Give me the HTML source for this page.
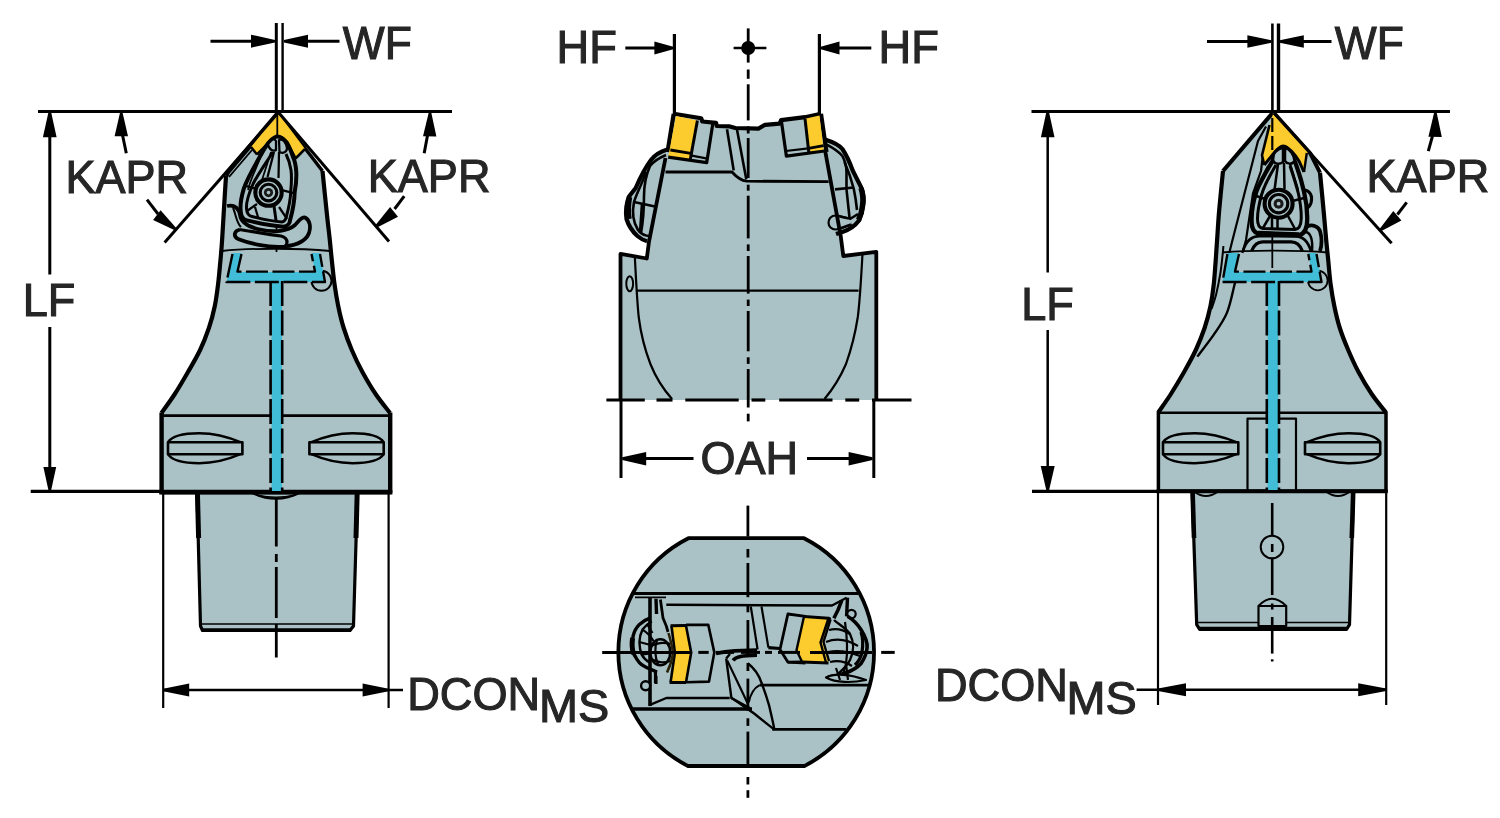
<!DOCTYPE html>
<html><head><meta charset="utf-8"><title>Tool dimensions</title>
<style>
html,body{margin:0;padding:0;background:#fff;}
body{width:1500px;height:818px;overflow:hidden;}
svg{display:block;font-family:"Liberation Sans",sans-serif;will-change:transform;transform:translateZ(0);}
</style></head><body>
<svg width="1500" height="818" viewBox="0 0 1500 818">
<rect width="1500" height="818" fill="#fff"/>
<path d="M278,113 L228,172 L226.0,176.0 C225.6,182.5 224.2,204.3 223.6,215.0 C222.9,225.7 222.6,232.2 222.1,240.0 C221.6,247.8 221.0,254.7 220.3,262.0 C219.6,269.3 219.0,276.7 218.1,284.0 C217.2,291.3 216.3,298.7 214.8,306.0 C213.3,313.3 211.4,320.7 208.9,328.0 C206.4,335.3 203.6,342.7 200.1,350.0 C196.6,357.3 192.2,364.7 188.0,372.0 C183.8,379.3 179.2,387.2 174.8,394.0 C170.4,400.8 163.7,409.8 161.5,413.0  L161.5,492 L197,492 L200.5,626 L202.5,630.5 L350,630.5 L353.5,626 L357.5,492 L390.2,492 L390.0,413.0 C387.6,409.8 380.2,400.8 375.6,394.0 C371.0,387.2 366.4,379.3 362.4,372.0 C358.4,364.7 354.9,357.3 351.8,350.0 C348.7,342.7 346.0,335.3 343.7,328.0 C341.4,320.7 339.7,313.3 338.2,306.0 C336.7,298.7 335.5,291.3 334.5,284.0 C333.5,276.7 332.8,269.3 332.0,262.0 C331.2,254.7 330.6,247.8 329.8,240.0 C329.0,232.2 328.2,226.5 327.0,215.0 C325.8,203.5 323.2,178.3 322.5,171.0  Z" fill="#aac2c6" stroke="#000" stroke-width="0" stroke-linejoin="round" stroke-linecap="butt" />
<path d="M197,492 L200.5,626 L202.5,630.5 L350,630.5 L353.5,626 L357.5,492" fill="none" stroke="#000" stroke-width="3.2" stroke-linejoin="round" stroke-linecap="butt" />
<line x1="197.4" y1="492" x2="198.6" y2="538" stroke="#000" stroke-width="5" />
<line x1="357.2" y1="492" x2="356" y2="538" stroke="#000" stroke-width="5" />
<line x1="200.5" y1="624" x2="353.5" y2="624" stroke="#000" stroke-width="1.6" />
<line x1="202" y1="630" x2="350" y2="630" stroke="#000" stroke-width="3.5" />
<path d="M161.6,412.5 L161.6,492 L390.2,492 L390.2,412.5" fill="none" stroke="#000" stroke-width="4.4" stroke-linejoin="round" stroke-linecap="butt" />
<line x1="161" y1="415.6" x2="390.5" y2="415.6" stroke="#000" stroke-width="2.6" />
<line x1="159.2" y1="492.4" x2="392.4" y2="492.4" stroke="#000" stroke-width="4.4" />
<path d="M226.0,176.0 C225.6,182.5 224.2,204.3 223.6,215.0 C222.9,225.7 222.6,232.2 222.1,240.0 C221.6,247.8 221.0,254.7 220.3,262.0 C219.6,269.3 219.0,276.7 218.1,284.0 C217.2,291.3 216.3,298.7 214.8,306.0 C213.3,313.3 211.4,320.7 208.9,328.0 C206.4,335.3 203.6,342.7 200.1,350.0 C196.6,357.3 192.2,364.7 188.0,372.0 C183.8,379.3 179.2,387.2 174.8,394.0 C170.4,400.8 163.7,409.8 161.5,413.0 " fill="none" stroke="#000" stroke-width="4.2" stroke-linejoin="round" stroke-linecap="butt" />
<path d="M322.5,171.0 C323.2,178.3 325.8,203.5 327.0,215.0 C328.2,226.5 329.0,232.2 329.8,240.0 C330.6,247.8 331.2,254.7 332.0,262.0 C332.8,269.3 333.5,276.7 334.5,284.0 C335.5,291.3 336.7,298.7 338.2,306.0 C339.7,313.3 341.4,320.7 343.7,328.0 C346.0,335.3 348.7,342.7 351.8,350.0 C354.9,357.3 358.4,364.7 362.4,372.0 C366.4,379.3 371.0,387.2 375.6,394.0 C380.2,400.8 387.6,409.8 390.0,413.0 " fill="none" stroke="#000" stroke-width="4.2" stroke-linejoin="round" stroke-linecap="butt" />
<path d="M278,113 L228,172 L226,176" fill="none" stroke="#000" stroke-width="4.5" stroke-linejoin="round" stroke-linecap="butt" />
<path d="M278,113 L322.5,171" fill="none" stroke="#000" stroke-width="3.5" stroke-linejoin="round" stroke-linecap="butt" />
<path d="M222,251 C250,248 300,248 330,251" fill="none" stroke="#000" stroke-width="1.8" stroke-linejoin="round" stroke-linecap="butt" />
<circle cx="321.5" cy="280.8" r="10" fill="none" stroke="#000" stroke-width="2"/>
<polygon points="232.5,253 241.5,253 237.5,272 315,272 311.5,253 320,253 325,282 282,282 282,491 271.5,491 271.5,282 226.5,282" fill="#41bdd8"/>
<path d="M241.5,254 L237.5,271.6 L315,271.6 L311.5,254" fill="none" stroke="#000" stroke-width="2.4" stroke-linejoin="round" stroke-linecap="butt" stroke-dasharray="22 4.5"/>
<path d="M232.5,254 L226.5,282 L325,282 L320,254" fill="none" stroke="#000" stroke-width="2.4" stroke-linejoin="round" stroke-linecap="butt" stroke-dasharray="24 4.5"/>
<line x1="270.6" y1="281" x2="270.6" y2="491" stroke="#000" stroke-width="2.6" stroke-dasharray="25 4.5"/>
<line x1="282.2" y1="281" x2="282.2" y2="491" stroke="#000" stroke-width="2.6" stroke-dasharray="25 4.5"/>
<path d="M168,442.2 C172,435.7 185.112,433.2 199.248,433.2 C214.872,433.2 231.24,438.2 240.4,442.2" fill="none" stroke="#000" stroke-width="2.4" stroke-linejoin="round" stroke-linecap="butt" />
<path d="M168,454.2 C172,460.7 185.112,463.2 199.248,463.2 C214.872,463.2 231.24,458.2 240.4,454.2" fill="none" stroke="#000" stroke-width="2.4" stroke-linejoin="round" stroke-linecap="butt" />
<path d="M168,442.2 L242.4,442.2 L242.4,454.2 L168,454.2 Z" fill="none" stroke="#000" stroke-width="2.6" stroke-linejoin="round" stroke-linecap="butt" />
<path d="M383.7,442.2 C379.7,435.7 366.611,433.2 352.49399999999997,433.2 C336.89099999999996,433.2 320.54499999999996,438.2 311.4,442.2" fill="none" stroke="#000" stroke-width="2.4" stroke-linejoin="round" stroke-linecap="butt" />
<path d="M383.7,454.2 C379.7,460.7 366.611,463.2 352.49399999999997,463.2 C336.89099999999996,463.2 320.54499999999996,458.2 311.4,454.2" fill="none" stroke="#000" stroke-width="2.4" stroke-linejoin="round" stroke-linecap="butt" />
<path d="M309.4,442.2 L383.7,442.2 L383.7,454.2 L309.4,454.2 Z" fill="none" stroke="#000" stroke-width="2.6" stroke-linejoin="round" stroke-linecap="butt" />
<path d="M251.4,492.5 Q276,505 300.4,492.5" fill="none" stroke="#000" stroke-width="2.2" stroke-linejoin="round" stroke-linecap="butt" />
<path d="M258,495.5 Q276,499 294,495.5" fill="none" stroke="#000" stroke-width="1.4" stroke-linejoin="round" stroke-linecap="butt" />
<line x1="276.5" y1="160" x2="276.5" y2="252" stroke="#000" stroke-width="1.8" />
<line x1="276.3" y1="497" x2="276.3" y2="546.5" stroke="#000" stroke-width="2.8" />
<line x1="276.3" y1="554" x2="276.3" y2="562" stroke="#000" stroke-width="2.8" />
<line x1="276.3" y1="567" x2="276.3" y2="618" stroke="#000" stroke-width="2.8" />
<line x1="276.3" y1="624" x2="276.3" y2="657.5" stroke="#000" stroke-width="2.8" />
<polygon points="278,113 251,147 257,154.5 276,137 280,137 295.5,158.5 305,149" fill="#fccb2e"/>
<path d="M278,113 L251,147 L257,154.5 L274,138" fill="none" stroke="#000" stroke-width="0" stroke-linejoin="round" stroke-linecap="butt" />
<line x1="277.3" y1="113" x2="277.3" y2="140" stroke="#000" stroke-width="1.8" />
<g transform="translate(0.0,0)">
<path d="M227,206 C235,204 239,209 240,215 C241,223 248,227 260,229.5 C275,233 288,231 295,225 C299,221 301,217 305,217.5 C310,220 311,227 309,233 C306,241 297,245 285,246.5 C268,248 248,243 238,239 C233,236 234,231 240,229.5" fill="#aac2c6" stroke="#000" stroke-width="3.75" stroke-linejoin="round" stroke-linecap="butt" />
<path d="M240,229.5 C255,232 270,235 281,236 C289,238 289,247 281,247.5" fill="none" stroke="#000" stroke-width="3.25" stroke-linejoin="round" stroke-linecap="butt" />
<path d="M233,208 C236,214 236,222 241,227" fill="none" stroke="#000" stroke-width="2.0" stroke-linejoin="round" stroke-linecap="butt" />
<path d="M276.4,136.5 C270,139 266,146 262,153 C255,165 247,179 243.8,188.6 C241,198 240,205 240.7,211 C241,217 244,220 247,220.4 C262,224 275,226 283.6,226.7 C288,226 290,223 290,220.4 C293,210 294.5,200 294.7,191.8 C296,185 296.5,178 296.3,172.7 C296,166 295,161 293,156.8 C291,151 289,146 286.8,142.5 C284,139 280,136 276.4,136.5 Z" fill="#aac2c6" stroke="#000" stroke-width="4.0" stroke-linejoin="round" stroke-linecap="butt" />
<path d="M273,152 C268,160 258,174 253,184 C249,193 246,203 246.5,209 C247,214 249,216 252,216.5 C264,219.5 275,221.5 282,222 C285,221.5 286,219 286.5,216 C289,207 290.5,198 290.8,191 C291.5,183 291.8,176 291,170 C290,163 288,158 286,154" fill="none" stroke="#000" stroke-width="3.0" stroke-linejoin="round" stroke-linecap="butt" />
<path d="M262,153 C258,165 250,180 248,190" fill="none" stroke="#000" stroke-width="1.75" stroke-linejoin="round" stroke-linecap="butt" />
<path d="M268,143 C270,139 274,138 276,141 L276,150 C273,152 268,149 268,143 Z" fill="#aac2c6" stroke="#000" stroke-width="2.25" stroke-linejoin="round" stroke-linecap="butt" />
<path d="M279,140 C283,138 286,143 287,148 C287,152 283,154 279.5,152 Z" fill="#aac2c6" stroke="#000" stroke-width="2.25" stroke-linejoin="round" stroke-linecap="butt" />
<line x1="274" y1="152" x2="267.5" y2="177" stroke="#000" stroke-width="2.25" />
<line x1="279" y1="152" x2="278.5" y2="178" stroke="#000" stroke-width="2.25" />
<line x1="271" y1="152" x2="262" y2="180" stroke="#000" stroke-width="1.75" />
<line x1="243.8" y1="185.4" x2="255.5" y2="188.6" stroke="#000" stroke-width="2.25" />
<line x1="282" y1="190.2" x2="294.7" y2="193.4" stroke="#000" stroke-width="2.25" />
<line x1="255" y1="207" x2="258.5" y2="218.8" stroke="#000" stroke-width="2.25" />
<line x1="274" y1="206" x2="276" y2="220.4" stroke="#000" stroke-width="3.0" />
<line x1="247" y1="211" x2="257" y2="204" stroke="#000" stroke-width="2.25" />
<line x1="287" y1="218.8" x2="279" y2="207" stroke="#000" stroke-width="2.25" />
<circle cx="268.5" cy="192.6" r="13.2" fill="#aac2c6" stroke="#000" stroke-width="4.08"/>
<circle cx="268.5" cy="192.6" r="8.3" fill="#aac2c6" stroke="#000" stroke-width="3.12"/>
<circle cx="268.5" cy="192.6" r="4.6" fill="#1a1a1a"/>
<circle cx="268.5" cy="192.6" r="1.8" fill="#aac2c6"/>
</g>
<path d="M257,154.5 L272,139.5 C275,136 279,135.5 282,138 C286,141 289,146 291,150 L295.5,158.5" fill="none" stroke="#000" stroke-width="2.75" stroke-linejoin="round" stroke-linecap="butt" />
<path d="M251,147 L257,154.5" fill="none" stroke="#000" stroke-width="2.5" stroke-linejoin="round" stroke-linecap="butt" />
<path d="M295.5,158.5 L305,149" fill="none" stroke="#000" stroke-width="2.5" stroke-linejoin="round" stroke-linecap="butt" />
<line x1="229" y1="177" x2="252" y2="150" stroke="#000" stroke-width="1.88" />
<line x1="276.3" y1="23" x2="276.3" y2="112" stroke="#000" stroke-width="3" />
<line x1="282.6" y1="23" x2="282.6" y2="112" stroke="#000" stroke-width="2.4" />
<line x1="210.5" y1="41.2" x2="262" y2="41.2" stroke="#000" stroke-width="3" />
<polygon points="275.0,42.5 251.0,47.7 251.0,34.7 275.0,39.9" fill="#000"/>
<line x1="296" y1="41.2" x2="339.5" y2="41.2" stroke="#000" stroke-width="3" />
<polygon points="284.0,39.9 308.0,34.7 308.0,47.7 284.0,42.5" fill="#000"/>
<text x="342.8" y="59.3" font-size="46.5" fill="#262626" stroke="#262626" stroke-width="1.1" text-anchor="start" textLength="69" lengthAdjust="spacingAndGlyphs">WF</text>
<line x1="38" y1="111.4" x2="452" y2="111.4" stroke="#000" stroke-width="3" />
<line x1="49.8" y1="125" x2="49.8" y2="274.5" stroke="#000" stroke-width="3" />
<line x1="49.8" y1="327" x2="49.8" y2="478" stroke="#000" stroke-width="3" />
<polygon points="51.1,112.0 56.6,137.3 42.9,137.3 48.5,112.0" fill="#000"/>
<polygon points="48.5,490.5 43.4,467.0 56.2,467.0 51.1,490.5" fill="#000"/>
<text x="22.8" y="316" font-size="46" fill="#262626" stroke="#262626" stroke-width="1.1" text-anchor="start" textLength="52.6" lengthAdjust="spacingAndGlyphs">LF</text>
<line x1="30.7" y1="491.3" x2="161" y2="491.3" stroke="#000" stroke-width="3.2" />
<line x1="278" y1="113" x2="164.6" y2="242.6" stroke="#000" stroke-width="3" />
<line x1="279" y1="113" x2="389" y2="241.5" stroke="#000" stroke-width="3" />
<text x="65.5" y="192.8" font-size="46" fill="#262626" stroke="#262626" stroke-width="1.1" text-anchor="start" textLength="122.6" lengthAdjust="spacingAndGlyphs">KAPR</text>
<polygon points="122.6,112.8 128.0,136.3 114.6,136.3 120.0,112.8" fill="#000"/>
<line x1="122.5" y1="135" x2="126.3" y2="153.3" stroke="#000" stroke-width="3" />
<polygon points="174.8,230.3 153.1,220.1 160.6,210.2 176.4,228.3" fill="#000"/>
<line x1="147" y1="199.7" x2="158" y2="214" stroke="#000" stroke-width="3" />
<text x="367.8" y="192" font-size="46" fill="#262626" stroke="#262626" stroke-width="1.1" text-anchor="start" textLength="122.6" lengthAdjust="spacingAndGlyphs">KAPR</text>
<polygon points="431.3,112.8 436.4,136.4 423.0,136.2 428.7,112.8" fill="#000"/>
<line x1="427.6" y1="135" x2="424.2" y2="153.3" stroke="#000" stroke-width="3" />
<polygon points="375.0,225.7 390.1,207.0 398.0,216.7 376.6,227.7" fill="#000"/>
<line x1="404.2" y1="196.2" x2="394.6" y2="209" stroke="#000" stroke-width="3" />
<line x1="163.2" y1="493" x2="163.2" y2="708" stroke="#000" stroke-width="2.2" />
<line x1="388.6" y1="493" x2="388.6" y2="708" stroke="#000" stroke-width="2.2" />
<line x1="163.2" y1="690" x2="403" y2="690" stroke="#000" stroke-width="2.4" />
<polygon points="163.2,688.7 189.2,683.5 189.2,696.5 163.2,691.3" fill="#000"/>
<polygon points="388.6,691.3 362.6,696.5 362.6,683.5 388.6,688.7" fill="#000"/>
<text x="407.2" y="709.7" font-size="46" fill="#262626" stroke="#262626" stroke-width="1.1" text-anchor="start" textLength="133" lengthAdjust="spacingAndGlyphs">DCON</text>
<text x="539" y="722" font-size="46" fill="#262626" stroke="#262626" stroke-width="1.1" text-anchor="start" textLength="70.2" lengthAdjust="spacingAndGlyphs">MS</text>
<path d="M673.7,113.8 L701.2,118.2 L702.3,121.5 L716,122.8 L716.8,126 L729.8,126.4 L735.3,128 L758.4,128.6 L765,124.8 L779.7,123.6 L781,120.2 L805,117.2 L821,113.8 L825,139.5 C833,142 839,145 842.4,149 C847,156 850,163 852.8,170.7 L861,187 C863.5,193 864,199 863.2,204 C862.5,210 861,216 859,220.6 C855,226 849,230 842.4,232 L840,234 L840.8,237 L843.3,256 L876.3,251.4 L876.3,400 L621,400 L621,253.8 L646.5,258.7 L649,241.6 L647,241.2 C644,240.5 641,239 637.4,236 C633,232 629,227 626.5,219 C625.5,212 626,204 629,196.5 L635.7,188 C640,178 645,168 651,160 C654,156 659,152 666.5,149.7 Z" fill="#aac2c6" stroke="#000" stroke-width="0" stroke-linejoin="round" stroke-linecap="butt" />
<path d="M666.5,149.7 C659,152 654,156 651,160 C645,168 640,178 635.7,188 L629,196.5 C626,204 625.5,212 626.5,219 C629,227 633,232 637.4,236 C641,239 644,240.5 647,241.2" fill="none" stroke="#000" stroke-width="4.2" stroke-linejoin="round" stroke-linecap="butt" />
<path d="M629.5,197 C628,205 628,213 629,219" fill="none" stroke="#000" stroke-width="5.5" stroke-linejoin="round" stroke-linecap="butt" />
<path d="M666,155 C659,158 653,162 650,166 C646,175 644,185 644,196 C644,210 643,222 641,233" fill="none" stroke="#000" stroke-width="2.6" stroke-linejoin="round" stroke-linecap="butt" />
<path d="M646,172 C643,182 637,192 634,202 C632,212 633,222 638,230 C641,234 646,236 650,236" fill="none" stroke="#000" stroke-width="2.6" stroke-linejoin="round" stroke-linecap="butt" />
<path d="M634,202 L655,206.5 M642,203.5 L640,233" fill="none" stroke="#000" stroke-width="2.6" stroke-linejoin="round" stroke-linecap="butt" />
<path d="M825,139.5 C833,142 839,145 842.4,149 C847,156 850,163 852.8,170.7 L861,187 C863.5,193 864,199 863.2,204 C862.5,210 861,216 859,220.6 C855,226 849,230 842.4,232 L836,234" fill="none" stroke="#000" stroke-width="4.2" stroke-linejoin="round" stroke-linecap="butt" />
<path d="M861,188 C863,194 863.5,200 862.5,206 C862,211 860.5,216 858.5,220" fill="none" stroke="#000" stroke-width="5.5" stroke-linejoin="round" stroke-linecap="butt" />
<path d="M826.8,144.7 C833,148 839,152 842.4,156 C845,161 846.5,166 846.5,172 L846.5,189" fill="none" stroke="#000" stroke-width="2.6" stroke-linejoin="round" stroke-linecap="butt" />
<path d="M844.5,162 C848,170 851.5,180 853.8,189 C855.5,197 856.5,205 857,210" fill="none" stroke="#000" stroke-width="2.6" stroke-linejoin="round" stroke-linecap="butt" />
<path d="M835,189.4 L853.8,187.5 M846.5,189.4 L849.6,218.5 M838,216 L850,219 L858,214 M840,228 L852,224" fill="none" stroke="#000" stroke-width="2.6" stroke-linejoin="round" stroke-linecap="butt" />
<circle cx="835.5" cy="222.5" r="7" fill="#aac2c6" stroke="#000" stroke-width="2.2"/>
<path d="M836,215.5 L849,219 L852,224 L838,229.2" fill="#aac2c6" stroke="#000" stroke-width="0" stroke-linejoin="round" stroke-linecap="butt" />
<path d="M836,215.5 C840,216 845,218 849.6,218.5 M838,229.2 L851,224.5" fill="none" stroke="#000" stroke-width="2.6" stroke-linejoin="round" stroke-linecap="butt" />
<path d="M665.5,158 L649,241.6 L646.8,258.5 L620.5,253.8 L620.5,400" fill="none" stroke="#000" stroke-width="3.8" stroke-linejoin="round" stroke-linecap="butt" />
<path d="M825,150 L840.8,236.7 L843.3,256 L876.3,251.8 L876.3,400" fill="none" stroke="#000" stroke-width="3.8" stroke-linejoin="round" stroke-linecap="butt" />
<path d="M673.7,113.8 L701.2,118.2 L702.3,121.5 L716,122.8 L716.8,126 L729.8,126.4 L735.3,128 L758.4,128.6 L765,124.8 L779.7,123.6 L781,120.2 L805,117.2 L821,113.8" fill="none" stroke="#000" stroke-width="4.2" stroke-linejoin="round" stroke-linecap="butt" />
<path d="M673.7,113.8 L667.5,152" fill="none" stroke="#000" stroke-width="4.2" stroke-linejoin="round" stroke-linecap="butt" />
<path d="M821,113.8 L826.5,152" fill="none" stroke="#000" stroke-width="4.2" stroke-linejoin="round" stroke-linecap="butt" />
<polygon points="676,116 697.4,120.4 690.2,160 668.2,157.2" fill="#fccb2e"/>
<path d="M697.4,120.4 L690.2,160" fill="none" stroke="#000" stroke-width="3" stroke-linejoin="round" stroke-linecap="butt" />
<path d="M670.4,150 L690.8,153.4" fill="none" stroke="#000" stroke-width="2.8" stroke-linejoin="round" stroke-linecap="butt" />
<path d="M712.8,123.7 L706.7,162.7 L668.2,157.2" fill="none" stroke="#000" stroke-width="3.2" stroke-linejoin="round" stroke-linecap="butt" />
<path d="M691.9,155.6 L706.2,158.3" fill="none" stroke="#000" stroke-width="2.2" stroke-linejoin="round" stroke-linecap="butt" />
<polygon points="805,118.7 819.5,115.6 823.7,151 809,154" fill="#fccb2e"/>
<path d="M805,118.7 L809,154" fill="none" stroke="#000" stroke-width="3" stroke-linejoin="round" stroke-linecap="butt" />
<path d="M808.4,148.3 L823.7,145.6" fill="none" stroke="#000" stroke-width="2.8" stroke-linejoin="round" stroke-linecap="butt" />
<path d="M781.5,121.8 L786.4,156.2 L824.5,151" fill="none" stroke="#000" stroke-width="3.2" stroke-linejoin="round" stroke-linecap="butt" />
<path d="M785.8,151 L808.4,148.3" fill="none" stroke="#000" stroke-width="2.2" stroke-linejoin="round" stroke-linecap="butt" />
<path d="M665.5,172 L732,172 C736,176.5 741,180.5 746.7,181.2 L828.6,181.6" fill="none" stroke="#000" stroke-width="2.8" stroke-linejoin="round" stroke-linecap="butt" />
<path d="M727,129.2 L733.7,170.4" fill="none" stroke="#000" stroke-width="2.6" stroke-linejoin="round" stroke-linecap="butt" />
<path d="M737,129.7 L746.3,179.2" fill="none" stroke="#000" stroke-width="2.6" stroke-linejoin="round" stroke-linecap="butt" />
<line x1="636.7" y1="290.7" x2="858.6" y2="290.7" stroke="#000" stroke-width="2.2" />
<path d="M634.8,256.3 C636,280 637,300 638.7,317 C641,335 645,350 650.4,364 C656,378 664,390 672,399" fill="none" stroke="#000" stroke-width="2.2" stroke-linejoin="round" stroke-linecap="butt" />
<path d="M862.5,254 C861,280 860,300 857.8,317 C855,335 851,350 846,364 C840,378 832,390 824.5,399" fill="none" stroke="#000" stroke-width="2.2" stroke-linejoin="round" stroke-linecap="butt" />
<ellipse cx="629.7" cy="283.7" rx="3.4" ry="7.5" fill="#aac2c6" stroke="#000" stroke-width="2"/>
<line x1="606.4" y1="400" x2="644.8" y2="400" stroke="#000" stroke-width="3.2" />
<line x1="656.5" y1="400" x2="672.5" y2="400" stroke="#000" stroke-width="3.2" />
<line x1="685.3" y1="400" x2="738.7" y2="400" stroke="#000" stroke-width="3.2" />
<line x1="751.5" y1="400" x2="765.3" y2="400" stroke="#000" stroke-width="3.2" />
<line x1="779.2" y1="400" x2="832.5" y2="400" stroke="#000" stroke-width="3.2" />
<line x1="845.3" y1="400" x2="859.2" y2="400" stroke="#000" stroke-width="3.2" />
<line x1="872" y1="400" x2="911.5" y2="400" stroke="#000" stroke-width="3.2" />
<line x1="748.2" y1="28.4" x2="748.2" y2="62.6" stroke="#000" stroke-width="2.8" />
<line x1="748.2" y1="69.5" x2="748.2" y2="78.8" stroke="#000" stroke-width="2.8" />
<line x1="748.2" y1="84.3" x2="748.2" y2="120.4" stroke="#000" stroke-width="2.8" />
<line x1="748.2" y1="126.4" x2="748.2" y2="133.5" stroke="#000" stroke-width="2.8" />
<line x1="748.2" y1="138" x2="748.2" y2="178" stroke="#000" stroke-width="2.8" />
<line x1="748.2" y1="184.7" x2="748.2" y2="190.7" stroke="#000" stroke-width="2.8" />
<line x1="748.2" y1="195.7" x2="748.2" y2="238.4" stroke="#000" stroke-width="2.8" />
<line x1="748.2" y1="244.4" x2="748.2" y2="251" stroke="#000" stroke-width="2.8" />
<line x1="748.2" y1="256" x2="748.2" y2="293.6" stroke="#000" stroke-width="2.8" />
<line x1="748.2" y1="299.6" x2="748.2" y2="306" stroke="#000" stroke-width="2.8" />
<line x1="748.2" y1="311" x2="748.2" y2="351.3" stroke="#000" stroke-width="2.8" />
<line x1="748.2" y1="357.3" x2="748.2" y2="363.9" stroke="#000" stroke-width="2.8" />
<line x1="748.2" y1="369" x2="748.2" y2="407.5" stroke="#000" stroke-width="2.8" />
<line x1="748.2" y1="413.7" x2="748.2" y2="421.4" stroke="#000" stroke-width="2.8" />
<circle cx="748.2" cy="48" r="7" fill="#000"/>
<line x1="733.6" y1="48" x2="766.4" y2="48" stroke="#000" stroke-width="2.6" />
<line x1="674.4" y1="34" x2="674.4" y2="115" stroke="#000" stroke-width="3.2" />
<line x1="819.4" y1="34" x2="819.4" y2="115" stroke="#000" stroke-width="3.2" />
<line x1="625.3" y1="48" x2="658" y2="48" stroke="#000" stroke-width="3" />
<polygon points="673.2,49.3 654.4,54.5 654.4,41.5 673.2,46.7" fill="#000"/>
<line x1="836" y1="48" x2="871.3" y2="48" stroke="#000" stroke-width="3" />
<polygon points="820.7,46.7 839.5,41.5 839.5,54.5 820.7,49.3" fill="#000"/>
<text x="556.5" y="63" font-size="46" fill="#262626" stroke="#262626" stroke-width="1.1" text-anchor="start" textLength="60.3" lengthAdjust="spacingAndGlyphs">HF</text>
<text x="878.5" y="63" font-size="46" fill="#262626" stroke="#262626" stroke-width="1.1" text-anchor="start" textLength="60.3" lengthAdjust="spacingAndGlyphs">HF</text>
<line x1="621" y1="401" x2="621" y2="478" stroke="#000" stroke-width="3" />
<line x1="873.8" y1="401" x2="873.8" y2="478" stroke="#000" stroke-width="3" />
<line x1="640" y1="458.6" x2="693.5" y2="458.6" stroke="#000" stroke-width="3" />
<polygon points="622.2,457.3 646.2,451.9 646.2,465.4 622.2,459.9" fill="#000"/>
<line x1="807" y1="458.6" x2="855" y2="458.6" stroke="#000" stroke-width="3" />
<polygon points="872.6,459.9 848.6,465.4 848.6,451.9 872.6,457.3" fill="#000"/>
<text x="700.5" y="474" font-size="46" fill="#262626" stroke="#262626" stroke-width="1.1" text-anchor="start" textLength="97.6" lengthAdjust="spacingAndGlyphs">OAH</text>
<path d="M688.4,538.2 L804.0,538.2 A127.8,127.8 0 0 1 804.4,766 L688.0,766 A127.8,127.8 0 0 1 688.4,538.2 Z" fill="#aac2c6" stroke="#000" stroke-width="3.8" stroke-linejoin="round" stroke-linecap="butt" />
<clipPath id="cc"><path d="M688.4,538.2 L804.0,538.2 A127.8,127.8 0 0 1 804.4,766 L688.0,766 A127.8,127.8 0 0 1 688.4,538.2 Z"/></clipPath><g clip-path="url(#cc)">
<line x1="633" y1="593.5" x2="858" y2="593.5" stroke="#000" stroke-width="3.2" />
<line x1="635" y1="597.3" x2="666" y2="597.3" stroke="#000" stroke-width="1.8" />
<path d="M666.3,604.8 L832,605.5 L846.6,597.7" fill="none" stroke="#000" stroke-width="2.4" stroke-linejoin="round" stroke-linecap="butt" />
<line x1="632" y1="709" x2="752" y2="709" stroke="#000" stroke-width="3.4" />
<path d="M650,704.8 L666.3,698 L729.7,698" fill="none" stroke="#000" stroke-width="2.4" stroke-linejoin="round" stroke-linecap="butt" />
<line x1="759.6" y1="685.1" x2="874" y2="685.1" stroke="#000" stroke-width="2.6" />
<line x1="772.3" y1="729.4" x2="846" y2="729.4" stroke="#000" stroke-width="2.6" />
<line x1="650" y1="597" x2="650" y2="706" stroke="#000" stroke-width="3.6" />
<path d="M656,598.7 L656.5,614" fill="none" stroke="#000" stroke-width="3.4" stroke-linejoin="round" stroke-linecap="butt" />
<path d="M660.4,599.5 L663,618 L666.3,626 L668,632" fill="none" stroke="#000" stroke-width="2.8" stroke-linejoin="round" stroke-linecap="butt" />
<path d="M656,676 L656,684" fill="none" stroke="#000" stroke-width="3" stroke-linejoin="round" stroke-linecap="butt" />
<path d="M841.7,600.6 L838,610 L833.9,618.2" fill="none" stroke="#000" stroke-width="3.6" stroke-linejoin="round" stroke-linecap="butt" />
<path d="M847.5,597.7 L846.6,616.3" fill="none" stroke="#000" stroke-width="3.4" stroke-linejoin="round" stroke-linecap="butt" />
<circle cx="851.5" cy="614" r="4.2" fill="#aac2c6" stroke="#000" stroke-width="2.2"/>
<path d="M750.8,606.5 L757.6,649.5 M761.5,606.5 L768.4,647.6" fill="none" stroke="#000" stroke-width="2.2" stroke-linejoin="round" stroke-linecap="butt" />
<path d="M768.4,647.6 L780,648.5" fill="none" stroke="#000" stroke-width="3.2" stroke-linejoin="round" stroke-linecap="butt" />
<path d="M716,653.6 C722,652 728,651.2 734.8,650.9 L757,650" fill="none" stroke="#000" stroke-width="3.6" stroke-linejoin="round" stroke-linecap="butt" />
<path d="M733,660.3 C736,656.5 742,655.6 757,655.2" fill="none" stroke="#000" stroke-width="3.6" stroke-linejoin="round" stroke-linecap="butt" />
<path d="M726.2,658.6 L731.4,698 L750.2,708.2" fill="none" stroke="#000" stroke-width="2.4" stroke-linejoin="round" stroke-linecap="butt" />
<path d="M726.2,658.6 L730,654" fill="none" stroke="#000" stroke-width="2.4" stroke-linejoin="round" stroke-linecap="butt" />
<path d="M727.3,660.6 L748,704" fill="none" stroke="#000" stroke-width="2.2" stroke-linejoin="round" stroke-linecap="butt" />
<path d="M747.8,663.2 C754,668 759,675 761.5,682.8 C765,692 767.5,700 769.3,706.2 C771,714 773,722 774.2,728.7" fill="none" stroke="#000" stroke-width="2.4" stroke-linejoin="round" stroke-linecap="butt" />
<path d="M759.6,685.1 C754,688 750.5,694 748.8,702.3" fill="none" stroke="#000" stroke-width="2" stroke-linejoin="round" stroke-linecap="butt" />
<path d="M731.4,698 C738,702 746,708 752,712 C760,718 768,725 774.2,729.4" fill="none" stroke="#000" stroke-width="2.4" stroke-linejoin="round" stroke-linecap="butt" />
<path d="M686,624.9 L708.3,624.9 L714.3,652.4 L709,681.6 L686,682.2" fill="#aac2c6" stroke="#000" stroke-width="2.6" stroke-linejoin="round" stroke-linecap="butt" />
<polygon points="671.5,626 686,625.7 691.2,652.6 686,682.2 670.6,682.2 674.9,652.6" fill="#fccb2e"/>
<path d="M671.5,626 L674.9,652.6 L670.6,682.2 M686,625.7 L691.2,652.6 L686,682.2" fill="none" stroke="#000" stroke-width="2.6" stroke-linejoin="round" stroke-linecap="butt" />
<path d="M670.5,625.8 L686,625.5 M669.6,682.4 L686,682.4" fill="none" stroke="#000" stroke-width="3" stroke-linejoin="round" stroke-linecap="butt" />
<path d="M805.5,616.3 L787.9,614 L780,649.5 L788,662.2 L805.5,663.2" fill="#aac2c6" stroke="#000" stroke-width="2.8" stroke-linejoin="round" stroke-linecap="butt" />
<polygon points="804,616.5 828.5,618.2 830.6,619.3 822.3,642 828.5,662.7 802,661.8 796.5,650.3" fill="#fccb2e"/>
<path d="M804,616.5 L796.5,650.3 L802,661.8 M828.5,618.2 L820.5,642.5 L826,662.5 M830.6,619.3 L823.5,642 L829,661" fill="none" stroke="#000" stroke-width="2.4" stroke-linejoin="round" stroke-linecap="butt" />
<path d="M804,616.5 L828.5,618.2 L830.6,619.3 M802,662 L828.5,662.9" fill="none" stroke="#000" stroke-width="3" stroke-linejoin="round" stroke-linecap="butt" />
<path d="M788,662.2 L802,662" fill="none" stroke="#000" stroke-width="2.8" stroke-linejoin="round" stroke-linecap="butt" />
<path d="M649.8,618.2 C645,620 642,622 639.4,624.4 C636,628 634,632 633.2,635.8 C632,640 631.8,644 632.2,648.2 C632.6,652 633.5,654.5 635.3,656.5 C636.5,659 638,661 639.4,662.7 C642,665.5 646,667.5 649.8,668.9 L657,672" fill="none" stroke="#000" stroke-width="3.4" stroke-linejoin="round" stroke-linecap="butt" />
<path d="M632.6,638 C631.8,643 632,649 633.6,654" fill="none" stroke="#000" stroke-width="5" stroke-linejoin="round" stroke-linecap="butt" />
<path d="M651.8,621.3 C648,623.5 645,626.5 642.5,629.6 C640.5,633.5 639.5,638 639.4,642 C639.5,646.5 640.2,650.5 641.5,654.4 C643.5,658 646.5,660.8 649.8,662.7" fill="none" stroke="#000" stroke-width="2.4" stroke-linejoin="round" stroke-linecap="butt" />
<ellipse cx="660.3" cy="652.3" rx="10" ry="13" fill="#aac2c6" stroke="#000" stroke-width="2.6"/>
<path d="M651,646 C656,643 664,642 670,644 M651,659 C656,662 664,663.5 670,661 M657,640 C654.5,648 655,657 658,664.5" fill="none" stroke="#000" stroke-width="2.2" stroke-linejoin="round" stroke-linecap="butt" />
<path d="M642.5,629.6 C647,632.5 651,636.5 653.5,641 M641.5,654.4 C645,654.5 648.5,654 651.5,653 M639.4,642 L650.5,645 M647,624 L652.5,633" fill="none" stroke="#000" stroke-width="2.2" stroke-linejoin="round" stroke-linecap="butt" />
<path d="M655.5,671 L655.5,683" fill="none" stroke="#000" stroke-width="3.2" stroke-linejoin="round" stroke-linecap="butt" />
<path d="M668.5,633 C670.5,640 672,646 673,652 M667,672.5 C670,666 672,660 673,654" fill="none" stroke="#2a2208" stroke-width="2.6" stroke-linejoin="round" stroke-linecap="butt" />
<circle cx="645.6" cy="685.8" r="4.5" fill="#aac2c6" stroke="#000" stroke-width="2.4"/>
<path d="M847.5,616.3 C854,620 858,625 861.2,630 C865,636 867.5,642 867.1,647.6 C866.5,654 864,659 861.2,663.2 C857,668 851,671 845.6,673 C840,675 834,676.5 828,677" fill="none" stroke="#000" stroke-width="3.6" stroke-linejoin="round" stroke-linecap="butt" />
<path d="M861,632 C863,638 863,646 862,652 C861,658 858,662 855,665" fill="none" stroke="#000" stroke-width="3.2" stroke-linejoin="round" stroke-linecap="butt" />
<path d="M834,620 C838,624 846,628 850,634 C854,642 854,652 850,660 C847,666 842,670 838,674" fill="none" stroke="#000" stroke-width="2.4" stroke-linejoin="round" stroke-linecap="butt" />
<path d="M829,630 C836,628 844,630 850,634 M826,642 C836,638 848,640 858,646 M828,652 C838,650 850,652 860,656 M830,662 C838,660 846,662 852,666" fill="none" stroke="#000" stroke-width="2.2" stroke-linejoin="round" stroke-linecap="butt" />
<path d="M845,622 C847,636 848,650 846,664 C845,668 844,672 842,676" fill="none" stroke="#000" stroke-width="2.2" stroke-linejoin="round" stroke-linecap="butt" />
<path d="M826,677.5 C834,673 850,674 866,680 C852,683 836,683 826,677.5 Z" fill="#aac2c6" stroke="#000" stroke-width="2.2" stroke-linejoin="round" stroke-linecap="butt" />
<path d="M836,668 L840,680 M846,664 L848,680" fill="none" stroke="#000" stroke-width="2.2" stroke-linejoin="round" stroke-linecap="butt" />
</g>
<line x1="747.9" y1="505.6" x2="747.9" y2="536.6" stroke="#000" stroke-width="2.8" />
<line x1="747.9" y1="549" x2="747.9" y2="557.5" stroke="#000" stroke-width="2.8" />
<line x1="747.9" y1="563" x2="747.9" y2="597.2" stroke="#000" stroke-width="2.8" />
<line x1="747.9" y1="604.8" x2="747.9" y2="612.3" stroke="#000" stroke-width="2.8" />
<line x1="747.9" y1="620" x2="747.9" y2="655.9" stroke="#000" stroke-width="2.8" />
<line x1="747.9" y1="663" x2="747.9" y2="671" stroke="#000" stroke-width="2.8" />
<line x1="747.9" y1="678.6" x2="747.9" y2="710.7" stroke="#000" stroke-width="2.8" />
<line x1="747.9" y1="718.3" x2="747.9" y2="725.9" stroke="#000" stroke-width="2.8" />
<line x1="747.9" y1="731.6" x2="747.9" y2="767.5" stroke="#000" stroke-width="2.8" />
<line x1="747.9" y1="777" x2="747.9" y2="784.5" stroke="#000" stroke-width="2.8" />
<line x1="747.9" y1="790.2" x2="747.9" y2="797.8" stroke="#000" stroke-width="2.8" />
<line x1="602.2" y1="652.4" x2="692" y2="652.4" stroke="#000" stroke-width="3" />
<line x1="698.3" y1="652.4" x2="708.7" y2="652.4" stroke="#000" stroke-width="3" />
<line x1="716" y1="652.4" x2="734" y2="652.4" stroke="#000" stroke-width="3" />
<line x1="741" y1="652.4" x2="760" y2="652.4" stroke="#000" stroke-width="3" />
<line x1="765" y1="652.4" x2="772" y2="652.4" stroke="#000" stroke-width="3" />
<line x1="778" y1="652.4" x2="800" y2="652.4" stroke="#000" stroke-width="3" />
<line x1="810" y1="652.4" x2="872" y2="652.4" stroke="#000" stroke-width="3" />
<line x1="881.2" y1="652.4" x2="894.7" y2="652.4" stroke="#000" stroke-width="3" />
<path d="M1272.5,113 L1223.0,171.0 C1222.4,177.5 1220.2,198.5 1219.2,210.0 C1218.2,221.5 1217.7,231.3 1217.1,240.0 C1216.5,248.7 1216.1,254.7 1215.6,262.0 C1215.0,269.3 1214.6,276.7 1213.8,284.0 C1213.0,291.3 1212.0,298.7 1210.5,306.0 C1209.0,313.3 1207.0,320.7 1204.6,328.0 C1202.1,335.3 1199.2,342.7 1195.8,350.0 C1192.4,357.3 1188.2,364.7 1184.1,372.0 C1179.9,379.3 1175.2,387.2 1170.9,394.0 C1166.6,400.8 1160.3,409.4 1158.2,412.5  L1158.2,491 L1192.2,491 L1196.7,624.6 L1199.7,629.5 L1346.5,629.5 L1349.5,624.6 L1353.5,491 L1386,491 L1386.0,412.5 C1383.6,409.4 1376.3,400.8 1371.7,394.0 C1367.1,387.2 1362.4,379.3 1358.5,372.0 C1354.6,364.7 1351.3,357.3 1348.2,350.0 C1345.1,342.7 1342.1,335.3 1339.8,328.0 C1337.5,320.7 1335.8,313.3 1334.3,306.0 C1332.8,298.7 1331.6,291.3 1330.6,284.0 C1329.6,276.7 1329.1,269.3 1328.4,262.0 C1327.7,254.7 1326.9,247.8 1326.2,240.0 C1325.5,232.2 1325.0,226.2 1324.0,215.0 C1323.0,203.8 1320.7,179.8 1320.0,172.7  L1310.4,153.6 Z" fill="#aac2c6" stroke="#000" stroke-width="0" stroke-linejoin="round" stroke-linecap="butt" />
<path d="M1192.2,491 L1196.7,624.6 L1199.7,629.5 L1346.5,629.5 L1349.5,624.6 L1353.5,491" fill="none" stroke="#000" stroke-width="3.2" stroke-linejoin="round" stroke-linecap="butt" />
<line x1="1192.6" y1="492" x2="1194" y2="538" stroke="#000" stroke-width="4.6" />
<line x1="1353.2" y1="492" x2="1351.8" y2="538" stroke="#000" stroke-width="4.6" />
<line x1="1196.7" y1="622.5" x2="1349.5" y2="622.5" stroke="#000" stroke-width="1.6" />
<line x1="1199" y1="628.6" x2="1347" y2="628.6" stroke="#000" stroke-width="3.8" />
<path d="M1158.4,411.5 L1158.4,491 L1386,491 L1386,411.5" fill="none" stroke="#000" stroke-width="3.5" stroke-linejoin="round" stroke-linecap="butt" />
<line x1="1158" y1="412.8" x2="1386.5" y2="412.8" stroke="#000" stroke-width="2.4" />
<line x1="1156.6" y1="491.4" x2="1387.8" y2="491.4" stroke="#000" stroke-width="3.6" />
<path d="M1247.5,491 L1247.5,418.7 L1296,418.7 L1296,491" fill="none" stroke="#000" stroke-width="2.2" stroke-linejoin="round" stroke-linecap="butt" />
<path d="M1223.0,171.0 C1222.4,177.5 1220.2,198.5 1219.2,210.0 C1218.2,221.5 1217.7,231.3 1217.1,240.0 C1216.5,248.7 1216.1,254.7 1215.6,262.0 C1215.0,269.3 1214.6,276.7 1213.8,284.0 C1213.0,291.3 1212.0,298.7 1210.5,306.0 C1209.0,313.3 1207.0,320.7 1204.6,328.0 C1202.1,335.3 1199.2,342.7 1195.8,350.0 C1192.4,357.3 1188.2,364.7 1184.1,372.0 C1179.9,379.3 1175.2,387.2 1170.9,394.0 C1166.6,400.8 1160.3,409.4 1158.2,412.5 " fill="none" stroke="#000" stroke-width="4.2" stroke-linejoin="round" stroke-linecap="butt" />
<path d="M1320.0,172.7 C1320.7,179.8 1323.0,203.8 1324.0,215.0 C1325.0,226.2 1325.5,232.2 1326.2,240.0 C1326.9,247.8 1327.7,254.7 1328.4,262.0 C1329.1,269.3 1329.6,276.7 1330.6,284.0 C1331.6,291.3 1332.8,298.7 1334.3,306.0 C1335.8,313.3 1337.5,320.7 1339.8,328.0 C1342.1,335.3 1345.1,342.7 1348.2,350.0 C1351.3,357.3 1354.6,364.7 1358.5,372.0 C1362.4,379.3 1367.1,387.2 1371.7,394.0 C1376.3,400.8 1383.6,409.4 1386.0,412.5 " fill="none" stroke="#000" stroke-width="4.2" stroke-linejoin="round" stroke-linecap="butt" />
<path d="M1272.5,113 L1223,171" fill="none" stroke="#000" stroke-width="4.2" stroke-linejoin="round" stroke-linecap="butt" />
<path d="M1274,113 L1310.4,153.6 L1320,172.7" fill="none" stroke="#000" stroke-width="4" stroke-linejoin="round" stroke-linecap="butt" />
<path d="M1266,126.5 L1258,141 L1232.5,240 L1229.2,253.2" fill="none" stroke="#000" stroke-width="2.2" stroke-linejoin="round" stroke-linecap="butt" />
<path d="M1262.7,157 L1261,171 L1253,193.4 L1246,240 L1242.4,253" fill="none" stroke="#000" stroke-width="2.2" stroke-linejoin="round" stroke-linecap="butt" />
<path d="M1236.0,280.0 C1235.8,280.7 1236.2,278.6 1234.7,284.0 C1233.2,289.4 1230.5,304.2 1227.0,312.6 C1223.5,321.0 1218.8,327.3 1213.8,334.6 C1208.8,341.9 1200.0,352.9 1197.3,356.6 " fill="none" stroke="#000" stroke-width="2.4" stroke-linejoin="round" stroke-linecap="butt" />
<path d="M1223.4,246.0 C1223.3,247.5 1223.1,250.5 1222.6,255.0 C1222.1,259.5 1221.5,266.3 1220.4,273.0 C1219.3,279.7 1217.5,289.0 1216.0,295.0 C1214.5,301.0 1212.2,306.7 1211.5,309.0 " fill="none" stroke="#000" stroke-width="2" stroke-linejoin="round" stroke-linecap="butt" />
<path d="M1222,252.5 C1250,250 1300,250 1328,252.5" fill="none" stroke="#000" stroke-width="1.8" stroke-linejoin="round" stroke-linecap="butt" />
<circle cx="1317.8" cy="280.5" r="9.8" fill="#aac2c6" stroke="#000" stroke-width="1.8"/>
<polygon points="1227.4,253 1239,253 1235,272 1311.5,272 1308.3,253 1316.5,253 1321.5,282 1278.4,282 1278.4,490 1267.6,490 1267.6,282 1222.5,282" fill="#41bdd8"/>
<path d="M1239,254 L1235,271.6 L1311.5,271.6 L1308.3,254" fill="none" stroke="#000" stroke-width="2.4" stroke-linejoin="round" stroke-linecap="butt" stroke-dasharray="22 4.5"/>
<path d="M1227.4,254 L1222.5,282 L1321.5,282 L1316.5,254" fill="none" stroke="#000" stroke-width="2.4" stroke-linejoin="round" stroke-linecap="butt" stroke-dasharray="24 4.5"/>
<line x1="1266.8" y1="281" x2="1266.8" y2="490" stroke="#000" stroke-width="2.6" stroke-dasharray="25 4.5"/>
<line x1="1279" y1="281" x2="1279" y2="490" stroke="#000" stroke-width="2.6" stroke-dasharray="25 4.5"/>
<path d="M1163,442.2 C1167,435.7 1180.319,433.2 1194.626,433.2 C1210.439,433.2 1227.0049999999999,438.2 1236.3,442.2" fill="none" stroke="#000" stroke-width="2.4" stroke-linejoin="round" stroke-linecap="butt" />
<path d="M1163,454.2 C1167,460.7 1180.319,463.2 1194.626,463.2 C1210.439,463.2 1227.0049999999999,458.2 1236.3,454.2" fill="none" stroke="#000" stroke-width="2.4" stroke-linejoin="round" stroke-linecap="butt" />
<path d="M1163,442.2 L1238.3,442.2 L1238.3,454.2 L1163,454.2 Z" fill="none" stroke="#000" stroke-width="2.6" stroke-linejoin="round" stroke-linecap="butt" />
<path d="M1380.2,442.2 C1376.2,435.7 1362.904,433.2 1348.616,433.2 C1332.824,433.2 1316.28,438.2 1307,442.2" fill="none" stroke="#000" stroke-width="2.4" stroke-linejoin="round" stroke-linecap="butt" />
<path d="M1380.2,454.2 C1376.2,460.7 1362.904,463.2 1348.616,463.2 C1332.824,463.2 1316.28,458.2 1307,454.2" fill="none" stroke="#000" stroke-width="2.4" stroke-linejoin="round" stroke-linecap="butt" />
<path d="M1305,442.2 L1380.2,442.2 L1380.2,454.2 L1305,454.2 Z" fill="none" stroke="#000" stroke-width="2.6" stroke-linejoin="round" stroke-linecap="butt" />
<path d="M1194.5,492 Q1206,500 1217.5,492" fill="none" stroke="#000" stroke-width="1.8" stroke-linejoin="round" stroke-linecap="butt" />
<path d="M1326.5,492 Q1338,500 1349.5,492" fill="none" stroke="#000" stroke-width="1.8" stroke-linejoin="round" stroke-linecap="butt" />
<circle cx="1272" cy="547" r="11.3" fill="none" stroke="#000" stroke-width="2"/>
<path d="M1258.5,626 L1258.5,606 Q1272,591.5 1286.2,606 L1286.2,626 Z" fill="#aac2c6" stroke="#000" stroke-width="2.2" stroke-linejoin="round" stroke-linecap="butt" />
<path d="M1258.5,606 L1286.2,606" fill="none" stroke="#000" stroke-width="2" stroke-linejoin="round" stroke-linecap="butt" />
<line x1="1272.3" y1="160" x2="1272.3" y2="268" stroke="#000" stroke-width="1.8" />
<line x1="1272.2" y1="503" x2="1272.2" y2="536.2" stroke="#000" stroke-width="2.6" />
<line x1="1272.2" y1="544" x2="1272.2" y2="552" stroke="#000" stroke-width="2.6" />
<line x1="1272.2" y1="557.8" x2="1272.2" y2="595" stroke="#000" stroke-width="2.6" />
<line x1="1272.2" y1="603.5" x2="1272.2" y2="609.6" stroke="#000" stroke-width="2.6" />
<line x1="1272.2" y1="617" x2="1272.2" y2="653.6" stroke="#000" stroke-width="2.6" />
<line x1="1272.2" y1="659.3" x2="1272.2" y2="661.5" stroke="#000" stroke-width="2.6" />
<path d="M1273,114 L1262,155.2 L1264.3,165 L1272.2,155.2 L1278.6,148.8 L1285,147.3 L1293,152 L1299.3,161.6 L1304,172 L1306.4,155.2 L1308,152 Z" fill="#fccb2e"/>
<path d="M1269.5,125 L1262,155.2 L1264.3,165" fill="none" stroke="#000" stroke-width="2.6" stroke-linejoin="round" stroke-linecap="butt" />
<path d="M1304,172 L1306.8,153" fill="none" stroke="#000" stroke-width="2.4" stroke-linejoin="round" stroke-linecap="butt" />
<line x1="1272.3" y1="118" x2="1272.3" y2="150" stroke="#000" stroke-width="2.2" stroke-dasharray="14 4"/>
<path d="M1307,226.7 C1312,224 1318,226 1320,231 C1322,238 1322,245 1320,251" fill="none" stroke="#000" stroke-width="3.75" stroke-linejoin="round" stroke-linecap="butt" />
<path d="M1305,232 C1310,232 1313,238 1312,251" fill="none" stroke="#000" stroke-width="2.5" stroke-linejoin="round" stroke-linecap="butt" />
<path d="M1251.6,251 C1254,245 1258,242 1262.7,241.9 L1291.3,241.9 C1296,242 1300,245 1302.4,251" fill="none" stroke="#000" stroke-width="3.25" stroke-linejoin="round" stroke-linecap="butt" />
<path d="M1243,251 C1246,240 1252,236 1260,236 L1295,236 C1303,236 1308,241 1311,251" fill="none" stroke="#000" stroke-width="2.75" stroke-linejoin="round" stroke-linecap="butt" />
<path d="M1305,190 C1310,191 1313,196 1311,203 C1310,206 1308,208 1306,209" fill="#aac2c6" stroke="#000" stroke-width="3.0" stroke-linejoin="round" stroke-linecap="butt" />
<path d="M1283.4,146.5 C1278,147 1275,154 1272.2,161.6 C1266,172 1260,182 1256.3,191.8 C1253,202 1251.5,212 1251.6,220.4 C1251.5,228 1253,232 1258,233.5 L1299,235 C1304,234 1307,229 1307.2,220.4 C1307.5,210 1306,200 1304,191.8 C1302,183 1300,176 1297.7,169.5 C1295,161 1292,155 1289.7,152 C1288,148.5 1286,146.5 1283.4,146.5 Z" fill="#aac2c6" stroke="#000" stroke-width="4.25" stroke-linejoin="round" stroke-linecap="butt" />
<path d="M1258,233.5 L1299,235" fill="none" stroke="#000" stroke-width="5.5" stroke-linejoin="round" stroke-linecap="butt" />
<path d="M1276,165 C1270,175 1264,186 1261.5,195 C1259,204 1257.5,212 1257.5,219 C1257.5,225 1259,228 1263,228.5 L1295,229.5 C1299,229 1301,225 1301.2,219 C1301.5,210 1300,201 1298.5,194 C1296,184 1293,175 1290,166" fill="none" stroke="#000" stroke-width="3.0" stroke-linejoin="round" stroke-linecap="butt" />
<path d="M1268,166 C1263,176 1258,186 1255.5,196" fill="none" stroke="#000" stroke-width="2.0" stroke-linejoin="round" stroke-linecap="butt" />
<path d="M1273,160 C1273,152 1277,148 1283,147.5 L1283,162 C1279,165 1274,164 1273,160 Z" fill="#aac2c6" stroke="#000" stroke-width="2.5" stroke-linejoin="round" stroke-linecap="butt" />
<path d="M1285,148 C1290,149 1294,155 1294.5,161 C1292,165 1287,164 1285,161 Z" fill="#aac2c6" stroke="#000" stroke-width="2.5" stroke-linejoin="round" stroke-linecap="butt" />
<path d="M1278,164 L1274.5,190 M1284,163 L1284.5,189 M1290,164 L1298,190" fill="none" stroke="#000" stroke-width="2.5" stroke-linejoin="round" stroke-linecap="butt" />
<path d="M1256.3,196 L1265,199 M1292.5,201 L1304,198 M1263,228 L1270,216 M1295,229 L1288,216 M1272,217 L1272,229 M1277.5,218 L1277.5,230" fill="none" stroke="#000" stroke-width="2.5" stroke-linejoin="round" stroke-linecap="butt" />
<circle cx="1278.6" cy="203.7" r="14" fill="#aac2c6" stroke="#000" stroke-width="4.08"/>
<circle cx="1278.6" cy="203.7" r="9.2" fill="#aac2c6" stroke="#000" stroke-width="3.12"/>
<circle cx="1278.6" cy="203.7" r="5" fill="#1a1a1a"/>
<circle cx="1278.6" cy="203.7" r="1.9" fill="#aac2c6"/>
<path d="M1264.3,165 L1272.2,155.2 C1276,150 1280,147.5 1285,147 C1290,148 1294,153 1299.3,161.6 L1304,172" fill="none" stroke="#000" stroke-width="3.0" stroke-linejoin="round" stroke-linecap="butt" />
<line x1="1272.4" y1="23.5" x2="1272.4" y2="112" stroke="#000" stroke-width="2.6" />
<line x1="1278.5" y1="23.5" x2="1278.5" y2="112" stroke="#000" stroke-width="3.4" />
<line x1="1207" y1="41.5" x2="1258" y2="41.5" stroke="#000" stroke-width="3" />
<polygon points="1271.4,42.8 1247.4,47.8 1247.4,35.2 1271.4,40.2" fill="#000"/>
<line x1="1292" y1="41.5" x2="1331.5" y2="41.5" stroke="#000" stroke-width="3" />
<polygon points="1279.8,40.2 1303.8,35.2 1303.8,47.8 1279.8,42.8" fill="#000"/>
<text x="1334.8" y="59.3" font-size="46.5" fill="#262626" stroke="#262626" stroke-width="1.1" text-anchor="start" textLength="69" lengthAdjust="spacingAndGlyphs">WF</text>
<line x1="1031.5" y1="111.4" x2="1450" y2="111.4" stroke="#000" stroke-width="3" />
<line x1="1047.7" y1="125" x2="1047.7" y2="272.5" stroke="#000" stroke-width="2.5" />
<line x1="1047.7" y1="330" x2="1047.7" y2="478" stroke="#000" stroke-width="2.5" />
<polygon points="1049.0,112.0 1054.5,137.3 1040.9,137.3 1046.4,112.0" fill="#000"/>
<polygon points="1046.4,490.5 1040.7,466.0 1054.7,466.0 1049.0,490.5" fill="#000"/>
<text x="1021.2" y="320" font-size="46" fill="#262626" stroke="#262626" stroke-width="1.1" text-anchor="start" textLength="52.6" lengthAdjust="spacingAndGlyphs">LF</text>
<line x1="1032" y1="491.3" x2="1158" y2="491.3" stroke="#000" stroke-width="3.2" />
<line x1="1274" y1="113" x2="1391.6" y2="243.2" stroke="#000" stroke-width="3" />
<text x="1366.6" y="192" font-size="46" fill="#262626" stroke="#262626" stroke-width="1.1" text-anchor="start" textLength="122.6" lengthAdjust="spacingAndGlyphs">KAPR</text>
<polygon points="1436.7,112.8 1441.8,136.9 1428.4,136.7 1434.1,112.8" fill="#000"/>
<line x1="1432.5" y1="136" x2="1428.3" y2="151.2" stroke="#000" stroke-width="3" />
<polygon points="1379.4,229.2 1393.3,210.9 1401.4,220.4 1381.0,231.2" fill="#000"/>
<line x1="1406.7" y1="202.3" x2="1397.4" y2="214.5" stroke="#000" stroke-width="3" />
<line x1="1158" y1="493" x2="1158" y2="705" stroke="#000" stroke-width="2.2" />
<line x1="1386.2" y1="493" x2="1386.2" y2="705" stroke="#000" stroke-width="2.2" />
<line x1="1136.6" y1="689.8" x2="1386" y2="689.8" stroke="#000" stroke-width="2.4" />
<polygon points="1158.0,688.5 1186.0,683.3 1186.0,696.3 1158.0,691.1" fill="#000"/>
<polygon points="1386.2,691.1 1358.2,696.3 1358.2,683.3 1386.2,688.5" fill="#000"/>
<text x="935" y="701" font-size="46" fill="#262626" stroke="#262626" stroke-width="1.1" text-anchor="start" textLength="133" lengthAdjust="spacingAndGlyphs">DCON</text>
<text x="1066.4" y="714" font-size="46" fill="#262626" stroke="#262626" stroke-width="1.1" text-anchor="start" textLength="70.2" lengthAdjust="spacingAndGlyphs">MS</text>
</svg>
</body></html>
